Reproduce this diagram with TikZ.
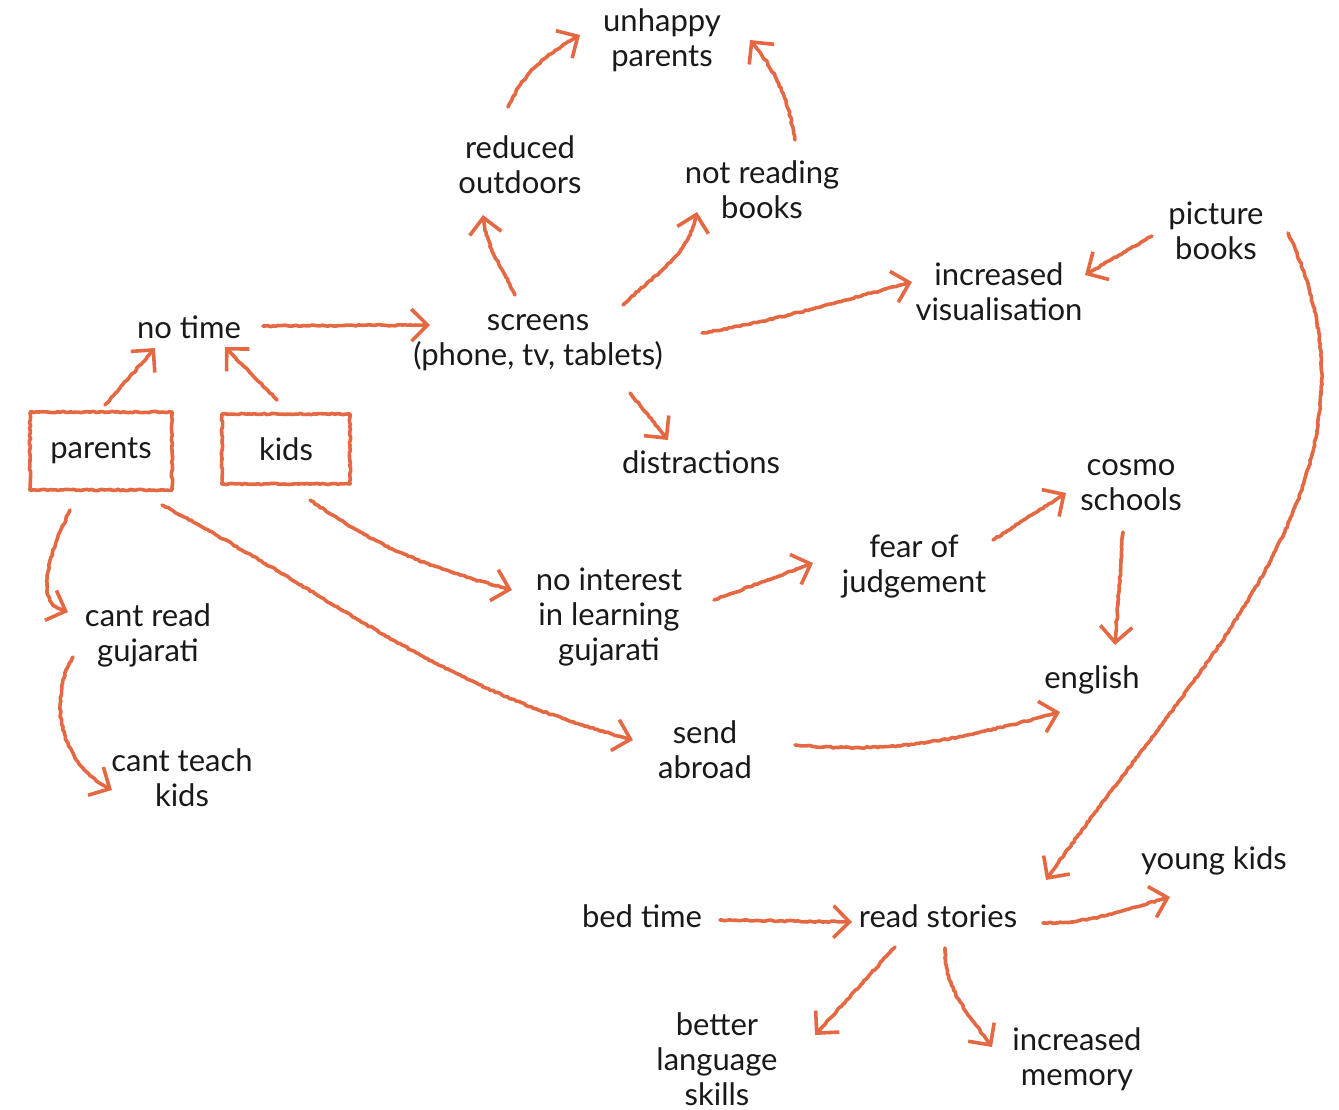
\documentclass[tikz,border=0pt]{standalone}
\usepackage{fontspec}
\setmainfont{Lato}
\usetikzlibrary{arrows.meta,decorations.pathmorphing}

\definecolor{crayon}{RGB}{228,104,66}
\tikzstyle{concept} = [align=center, inner sep=0pt, font=\fontsize{15.5}{17.5}\selectfont, text=black!90]
\tikzstyle{rough} = [draw=crayon, line width=1.8pt, line cap=round, line join=round, decorate, decoration={random steps, segment length=1.3pt, amplitude=0.35pt, pre=lineto, pre length=1pt, post=lineto, post length=6pt}]
\tikzstyle{crayonarrow} = [rough, -{Straight Barb[length=8pt, width=16pt]}]
\tikzstyle{sketchbox} = [rough, rectangle]

\begin{document}
\begin{tikzpicture}[x=0.5pt, y=0.5pt]
	\useasboundingbox (0,0) rectangle (1339,-1109);
	\pgfmathsetseed{7}

	\node [concept] (unhappy_parents) at (662,-40) {unhappy\\parents};
	\node [concept] (reduced_outdoors) at (520,-165) {reduced\\outdoors};
	\node [concept] (not_reading) at (762,-190) {not reading\\books};
	\node [concept] (picture_books) at (1216,-231) {picture\\books};
	\node [concept] (visualisation) at (999,-292) {increased\\visualisation};
	\node [concept] (no_time) at (189,-327) {no time};
	\node [concept] (screens) at (538,-343) {screens\\(phone, tv, tablets)};
	\node [concept, sketchbox, minimum width=71pt, minimum height=39pt] (parents) at (101,-451) {parents};
	\node [concept, sketchbox, minimum width=64pt, minimum height=35pt] (kids) at (286,-449) {kids};
	\node [concept] (distractions) at (701,-462) {distractions};
	\node [concept] (cosmo) at (1131,-485) {cosmo\\schools};
	\node [concept] (fear) at (914,-567) {fear of\\judgement};
	\node [concept] (no_interest) at (609,-617) {no interest\\in learning\\gujarati};
	\node [concept] (cant_read) at (148,-635) {cant read\\gujarati};
	\node [concept] (english) at (1092,-680) {english};
	\node [concept] (send_abroad) at (705,-750) {send\\abroad};
	\node [concept] (cant_teach) at (182,-778) {cant teach\\kids};
	\node [concept] (young_kids) at (1214,-861) {young kids};
	\node [concept] (bed_time) at (642,-916) {bed time};
	\node [concept] (read_stories) at (938,-916) {read stories};
	\node [concept] (language) at (717,-1059) {better\\language\\skills};
	\node [concept] (memory) at (1077,-1059) {increased\\memory};

	% screens
	\draw [crayonarrow] ([shift={(-12,58)}]reduced_outdoors.center) to[out=65, in=210] ([shift={(-82,5)}]unhappy_parents.center);
	\draw [crayonarrow] ([shift={(33,50)}]not_reading.center) to[out=100, in=-50] ([shift={(88,0)}]unhappy_parents.center);
	\draw [crayonarrow] ([shift={(-23,48)}]screens.center) to[out=115, in=-85] ([shift={(-37,-50)}]reduced_outdoors.center);
	\draw [crayonarrow] ([shift={(85,38)}]screens.center) to[out=45, in=-100] ([shift={(-65,-22)}]not_reading.center);
	\draw [crayonarrow] ([shift={(164,10)}]screens.center) to[out=10, in=195] ([shift={(-87,10)}]visualisation.center);
	\draw [crayonarrow] ([shift={(-64,-5)}]picture_books.center) -- ([shift={(86,17)}]visualisation.center);
	\draw [crayonarrow] ([shift={(74,1)}]no_time.center) -- ([shift={(-108,18)}]screens.center);
	\draw [crayonarrow] ([shift={(92,-50)}]screens.center) -- ([shift={(-33,22)}]distractions.center);

	% parents and kids
	\draw [crayonarrow] ([shift={(4,46)}]parents.center) -- ([shift={(-34,-21)}]no_time.center);
	\draw [crayonarrow] ([shift={(-9,49)}]kids.center) -- ([shift={(36,-20)}]no_time.center);
	\draw [crayonarrow] ([shift={(-31,-59)}]parents.center) to[out=-115, in=170] ([shift={(-80,23)}]cant_read.center);
	\draw [crayonarrow] ([shift={(-75,-22)}]cant_read.center) to[out=-120, in=155] ([shift={(-70,-12)}]cant_teach.center);
	\draw [crayonarrow] ([shift={(61,-54)}]parents.center) to[out=-28, in=165] ([shift={(-72,10)}]send_abroad.center);
	\draw [crayonarrow] ([shift={(24,-51)}]kids.center) to[out=-35, in=165] ([shift={(-97,27)}]no_interest.center);

	% english
	\draw [crayonarrow] ([shift={(105,17)}]no_interest.center) -- ([shift={(-101,4)}]fear.center);
	\draw [crayonarrow] ([shift={(79,27)}]fear.center) -- ([shift={(-65,-8)}]cosmo.center);
	\draw [crayonarrow] ([shift={(-8,-47)}]cosmo.center) -- ([shift={(23,35)}]english.center);
	\draw [crayonarrow] ([shift={(90,5)}]send_abroad.center) to[out=-5, in=195] ([shift={(-32,-32)}]english.center);

	% read stories
	\draw [crayonarrow] ([shift={(72,-2)}]picture_books.center) to[out=-65, in=55] ([shift={(108,36)}]read_stories.center);
	\draw [crayonarrow] ([shift={(78,-4)}]bed_time.center) -- ([shift={(-86,-6)}]read_stories.center);
	\draw [crayonarrow] ([shift={(105,-7)}]read_stories.center) to[out=0, in=195] ([shift={(-44,-36)}]young_kids.center);
	\draw [crayonarrow] ([shift={(-43,-31)}]read_stories.center) -- ([shift={(98,24)}]language.center);
	\draw [crayonarrow] ([shift={(7,-32)}]read_stories.center) to[out=-90, in=125] ([shift={(-85,12)}]memory.center);
\end{tikzpicture}
\end{document}
